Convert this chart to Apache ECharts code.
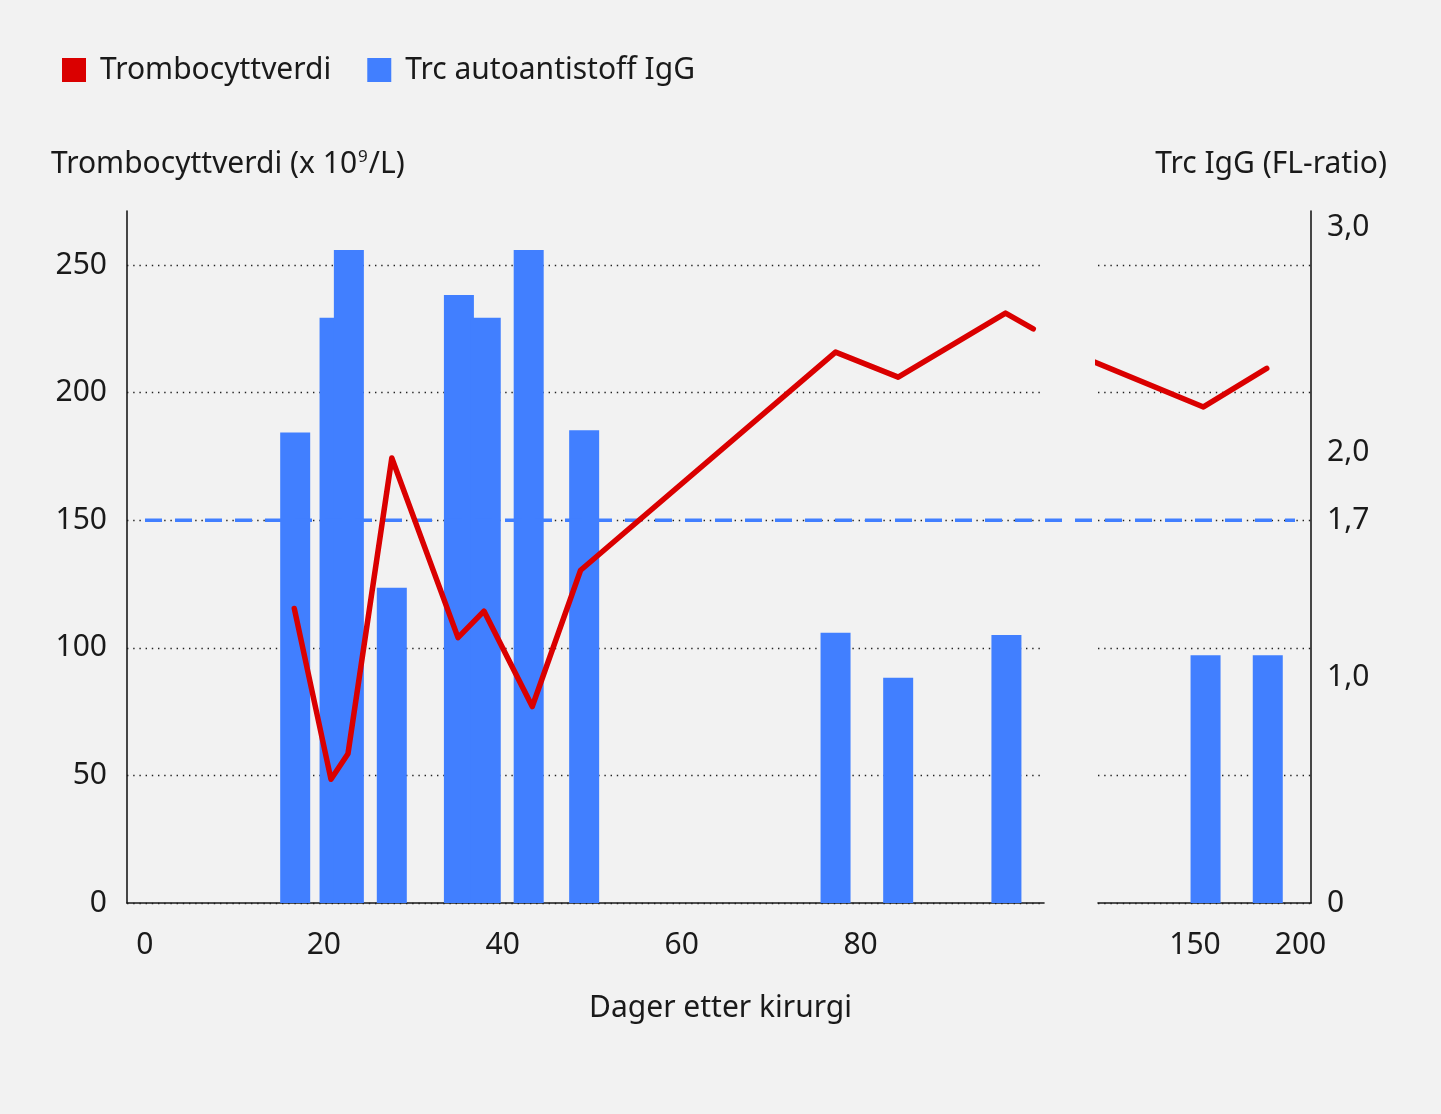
<!DOCTYPE html>
<html>
<head>
<meta charset="utf-8">
<script src="https://cdn.jsdelivr.net/npm/echarts@6/dist/echarts.min.js"></script>
<style>
  html, body { margin: 0; padding: 0; background: #f2f2f2; }
  #chart { width: 1441px; height: 1114px; }
</style>
</head>
<body>
<div id="chart"></div>
<script>
// ---- data ----
const barDays = [16.8, 21.2, 22.8, 27.6, 35.1, 38.1, 42.9, 49.1, 77.2, 84.2, 96.3];
const barValues = [2.09, 2.6, 2.9, 1.4, 2.7, 2.6, 2.9, 2.1, 1.2, 1.0, 1.19];
const lateBarDays = [155, 184.5];
const lateBarValues = [1.1, 1.1];
const lineDays = [16.7, 20.8, 22.7, 27.6, 35.0, 37.9, 43.3, 48.7, 77.2, 84.2, 96.2, 99.3];
const lineValues = [115.4, 48.5, 58.5, 174.4, 104, 114.4, 77, 130.4, 215.9, 206.1, 231.2, 225];
const lateLineDays = [99.5, 154, 184];
const lateLineValues = [213, 194.4, 209.5];
const refValue = 1.7;          // FL-ratio cut-off
const refValueLeft = 150;      // same height on left scale
const leftTicks = [0, 50, 100, 150, 200, 250];
const rightTicks = [0, 1.0, 1.7, 2.0, 3.0];
const earlyXTicks = [0, 20, 40, 60, 80];
const lateXTicks = [150, 200];
const seriesNames = ['Trombocyttverdi', 'Trc autoantistoff IgG'];

const leftMax = 271.2;
const rightMax = leftMax * refValue / refValueLeft;

const RED = '#da0000';
const BLUE = '#417fff';
const TXT = '#1a1a1a';
const FONT = 'Noto Sans';
const FS = 30;

const zip = (a, b) => a.map((v, i) => [v, b[i]]);

const splitStyle = { show: true, lineStyle: { color: '#222', width: 1.4, type: [1.4, 4.8] } };
const axisLineStyle = { show: true, onZero: false, lineStyle: { color: TXT, width: 1.6 } };

const option = {
  backgroundColor: '#f2f2f2',
  animation: false,
  textStyle: { fontFamily: FONT, color: TXT },
  title: [
    {
      text: 'Trombocyttverdi (x 10{sup|9}/L)',
      left: 51, top: 149, padding: 0,
      textStyle: {
        fontFamily: FONT, fontSize: FS, fontWeight: 'normal', color: TXT,
        rich: { sup: { fontFamily: FONT, fontSize: 17, color: TXT, verticalAlign: 'top', padding: [0, 1, 0, 1] } }
      }
    },
    {
      text: 'Trc IgG (FL-ratio)',
      right: 54, top: 149, padding: 0,
      textStyle: { fontFamily: FONT, fontSize: FS, fontWeight: 'normal', color: TXT }
    },
    {
      text: 'Dager etter kirurgi',
      left: 'center', top: 993, padding: 0,
      textStyle: { fontFamily: FONT, fontSize: FS, fontWeight: 'normal', color: TXT }
    }
  ],
  legend: {
    data: seriesNames,
    left: 62, top: 55, padding: 0,
    icon: 'path://M0,0H1V1H0Z',
    symbolKeepAspect: true,
    itemWidth: 42, itemHeight: 24, itemGap: 36,
    itemStyle: { borderWidth: 0 },
    textStyle: { fontFamily: FONT, fontSize: FS, color: TXT },
    selectedMode: false
  },
  grid: [
    { left: 127, right: 397, top: 211, bottom: 211 },
    { left: 1098, right: 130, top: 211, bottom: 211 },
    { left: 145, right: 146, top: 211, bottom: 211 }
  ],
  xAxis: [
    {
      gridIndex: 0, type: 'value', min: -2, max: 100.5,
      axisLine: axisLineStyle, axisTick: { show: false, customValues: earlyXTicks },
      splitLine: { show: false },
      axisLabel: { customValues: earlyXTicks, fontSize: FS, color: TXT, fontFamily: FONT, margin: 27 }
    },
    {
      gridIndex: 1, type: 'value', min: 104, max: 205,
      axisLine: axisLineStyle, axisTick: { show: false, customValues: lateXTicks },
      splitLine: { show: false },
      axisLabel: { customValues: lateXTicks, fontSize: FS, color: TXT, fontFamily: FONT, margin: 27 }
    },
    { gridIndex: 2, type: 'value', min: 0, max: 1, show: false }
  ],
  yAxis: [
    {
      gridIndex: 0, type: 'value', min: 0, max: leftMax, position: 'left',
      axisLine: axisLineStyle, axisTick: { show: false, customValues: leftTicks },
      splitLine: splitStyle,
      axisLabel: { customValues: leftTicks, fontSize: FS, color: TXT, fontFamily: FONT, margin: 20, padding: [5, 0, 0, 0] }
    },
    { gridIndex: 0, type: 'value', min: 0, max: rightMax, show: false },
    {
      gridIndex: 1, type: 'value', min: 0, max: leftMax, position: 'left',
      axisLine: { show: false, onZero: false }, axisTick: { show: false, customValues: leftTicks },
      axisLabel: { show: false, customValues: leftTicks },
      splitLine: splitStyle
    },
    {
      gridIndex: 1, type: 'value', min: 0, max: rightMax, position: 'right',
      axisLine: axisLineStyle, axisTick: { show: false, customValues: rightTicks },
      splitLine: { show: false },
      axisLabel: {
        customValues: rightTicks, fontSize: FS, color: TXT, fontFamily: FONT, margin: 16, padding: [5, 0, 0, 0],
        formatter: v => (v === 0 ? '0' : v.toFixed(1).replace('.', ','))
      }
    },
    { gridIndex: 2, type: 'value', min: 0, max: rightMax, show: false }
  ],
  series: [
    {
      name: seriesNames[1], type: 'bar', xAxisIndex: 0, yAxisIndex: 1,
      data: zip(barDays, barValues), barWidth: 30,
      itemStyle: { color: BLUE }, z: 2
    },
    {
      name: seriesNames[1], type: 'bar', xAxisIndex: 1, yAxisIndex: 3,
      data: zip(lateBarDays, lateBarValues), barWidth: 30,
      itemStyle: { color: BLUE }, z: 2
    },
    {
      name: 'Grenseverdi', type: 'line', xAxisIndex: 2, yAxisIndex: 4,
      data: [[0, refValue], [1, refValue]],
      showSymbol: false, symbol: 'none', silent: true,
      lineStyle: { color: BLUE, width: 3.5, type: [17, 13], cap: 'butt' }, z: 3
    },
    {
      name: seriesNames[0], type: 'line', xAxisIndex: 0, yAxisIndex: 0,
      data: zip(lineDays, lineValues), showSymbol: false, symbol: 'none',
      color: RED, itemStyle: { color: RED },
      lineStyle: { color: RED, width: 5.5, cap: 'round', join: 'round' }, z: 4
    },
    {
      name: seriesNames[0], type: 'line', xAxisIndex: 1, yAxisIndex: 2,
      data: zip(lateLineDays, lateLineValues), showSymbol: false, symbol: 'none', clip: false,
      color: RED, itemStyle: { color: RED },
      lineStyle: { color: RED, width: 5.5, cap: 'round', join: 'round' }, z: 4
    }
  ]
};

const chart = echarts.init(document.getElementById('chart'), null, { renderer: 'canvas' });
chart.setOption(option);
</script>
</body>
</html>
